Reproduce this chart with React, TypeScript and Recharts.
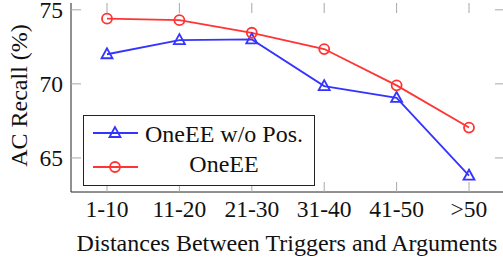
import React from 'react';
import { LineChart, Line, XAxis, YAxis, Legend } from 'recharts';

const categories = ['1-10', '11-20', '21-30', '31-40', '41-50', '>50'];
const withoutPos = [72.0, 72.95, 73.0, 69.85, 69.05, 63.8];
const oneEE = [74.4, 74.3, 73.45, 72.35, 69.9, 67.05];
const yTicks = [65, 70, 75];

const data = categories.map((c, i) => ({ cat: c, wo: withoutPos[i], one: oneEE[i] }));

const FONT = '"Liberation Serif"';
const TXT = { fontFamily: FONT, fontSize: 24, fill: '#111' } as React.CSSProperties;
const TICK_TXT = { fontFamily: FONT, fontSize: 23.5, fill: '#111' } as React.CSSProperties;
const BLUE = '#3434ff';
const RED = '#ff3434';
const TICK = '#a8a8a8';
const W = 505;
const H = 262;
const M = { top: 3, right: 0, bottom: 0, left: 0 };
const YW = 71;
const XH = 70;
const PAD = 36;
const PLOT_TOP = M.top;
const PLOT_LEFT = M.left + YW;
const PLOT_RIGHT = W - M.right;

const XTick = (props: any) => {
  const { x, y, payload } = props;
  return (
    <g>
      <line x1={x} x2={x} y1={y} y2={y - 10} stroke={TICK} strokeWidth={1} />
      <line x1={x} x2={x} y1={PLOT_TOP} y2={PLOT_TOP + 10} stroke={TICK} strokeWidth={1} />
      <text x={x} y={y + 25} textAnchor="middle" fontFamily={FONT} style={TICK_TXT}>
        {payload.value}
      </text>
    </g>
  );
};

const YTick = (props: any) => {
  const { y, payload } = props;
  return (
    <g>
      <line x1={PLOT_LEFT} x2={PLOT_LEFT + 10} y1={y} y2={y} stroke={TICK} strokeWidth={1} />
      <line x1={PLOT_RIGHT - 10} x2={PLOT_RIGHT} y1={y} y2={y} stroke={TICK} strokeWidth={1} />
      <text x={PLOT_LEFT - 8} y={y + 8} textAnchor="end" fontFamily={FONT} style={TICK_TXT}>
        {payload.value}
      </text>
    </g>
  );
};

const YLabel = (props: any) => {
  const vb = props.viewBox || { y: 0, height: 0 };
  const cy = vb.y + vb.height / 2 - 2;
  return (
    <text transform={`translate(27, ${cy}) rotate(-90)`} textAnchor="middle" fontFamily={FONT} style={TXT}>
      AC Recall (%)
    </text>
  );
};

const XLabel = (props: any) => {
  const vb = props.viewBox || { x: 0, width: 0, y: 0 };
  const cx = vb.x + vb.width / 2 - 1;
  return (
    <text x={cx} y={vb.y + 59} textAnchor="middle" fontFamily={FONT} style={TXT}>
      Distances Between Triggers and Arguments
    </text>
  );
};

const Triangle = (props: any) => {
  const { cx, cy, stroke } = props;
  if (cx == null || cy == null) return null;
  return (
    <polygon
      points={`${cx},${cy - 6} ${cx - 5.5},${cy + 4} ${cx + 5.5},${cy + 4}`}
      fill="none"
      stroke={stroke}
      strokeWidth={1.8}
    />
  );
};

const Circle = (props: any) => {
  const { cx, cy, stroke } = props;
  if (cx == null || cy == null) return null;
  return <circle cx={cx} cy={cy} r={5} fill="none" stroke={stroke} strokeWidth={1.8} />;
};

const legendItems = [
  { name: 'OneEE w/o Pos.', color: BLUE, shape: 'tri' },
  { name: 'OneEE', color: RED, shape: 'circ' },
];

const LegendBox = () => (
  <svg width={232} height={71} style={{ display: 'block' }}>
    <rect x={0.5} y={0.5} width={231} height={70} fill="#fff" stroke="#222" strokeWidth={1} />
    {legendItems.map((it, i) => {
      const cy = i === 0 ? 18 : 52;
      const base = i === 0 ? 26.5 : 57;
      return (
        <g key={it.name}>
          <line x1={10} x2={55} y1={cy} y2={cy} stroke={it.color} strokeWidth={1.8} />
          {it.shape === 'tri' ? (
            <Triangle cx={32} cy={cy} stroke={it.color} />
          ) : (
            <Circle cx={32} cy={cy} stroke={it.color} />
          )}
          <text x={141} y={base} textAnchor="middle" fontFamily={FONT} style={TXT}>
            {it.name}
          </text>
        </g>
      );
    })}
  </svg>
);

export default function App() {
  return (
    <div
      style={{
        position: 'absolute',
        left: 0,
        top: 0,
        width: 503,
        height: 262,
        overflow: 'hidden',
        background: '#fff',
        fontFamily: FONT,
      }}
    >
      <LineChart width={W} height={H} data={data} margin={M} style={{ fontFamily: FONT }}>
        <XAxis
          dataKey="cat"
          xAxisId="b"
          height={XH}
          padding={{ left: PAD, right: PAD }}
          tickSize={0}
          tickMargin={0}
          tickLine={false}
          axisLine={{ stroke: '#222', strokeWidth: 1 }}
          tick={<XTick />}
          interval={0}
          label={<XLabel />}
        />
        <XAxis
          dataKey="cat"
          xAxisId="t"
          orientation="top"
          height={0}
          padding={{ left: PAD, right: PAD }}
          tick={false}
          tickLine={false}
          axisLine={{ stroke: '#222', strokeWidth: 1 }}
        />
        <YAxis
          yAxisId="l"
          width={YW}
          domain={[62.7, 75.46]}
          ticks={yTicks}
          tickSize={0}
          tickMargin={0}
          tickLine={false}
          axisLine={{ stroke: '#222', strokeWidth: 1 }}
          tick={<YTick />}
          allowDataOverflow
          label={<YLabel />}
        />
        <YAxis
          yAxisId="r"
          orientation="right"
          width={0}
          domain={[62.7, 75.46]}
          tick={false}
          tickLine={false}
          axisLine={{ stroke: '#222', strokeWidth: 1 }}
        />
        <Legend
          layout="horizontal"
          verticalAlign="middle"
          align="center"
          wrapperStyle={{ left: 83, top: 115, width: 232, height: 71 }}
          content={() => <LegendBox />}
        />
        <Line
          xAxisId="b"
          yAxisId="l"
          dataKey="wo"
          name="OneEE w/o Pos."
          stroke={BLUE}
          strokeWidth={1.8}
          dot={<Triangle />}
          activeDot={false}
          isAnimationActive={false}
        />
        <Line
          xAxisId="b"
          yAxisId="l"
          dataKey="one"
          name="OneEE"
          stroke={RED}
          strokeWidth={1.8}
          dot={<Circle />}
          activeDot={false}
          isAnimationActive={false}
        />
      </LineChart>
    </div>
  );
}
